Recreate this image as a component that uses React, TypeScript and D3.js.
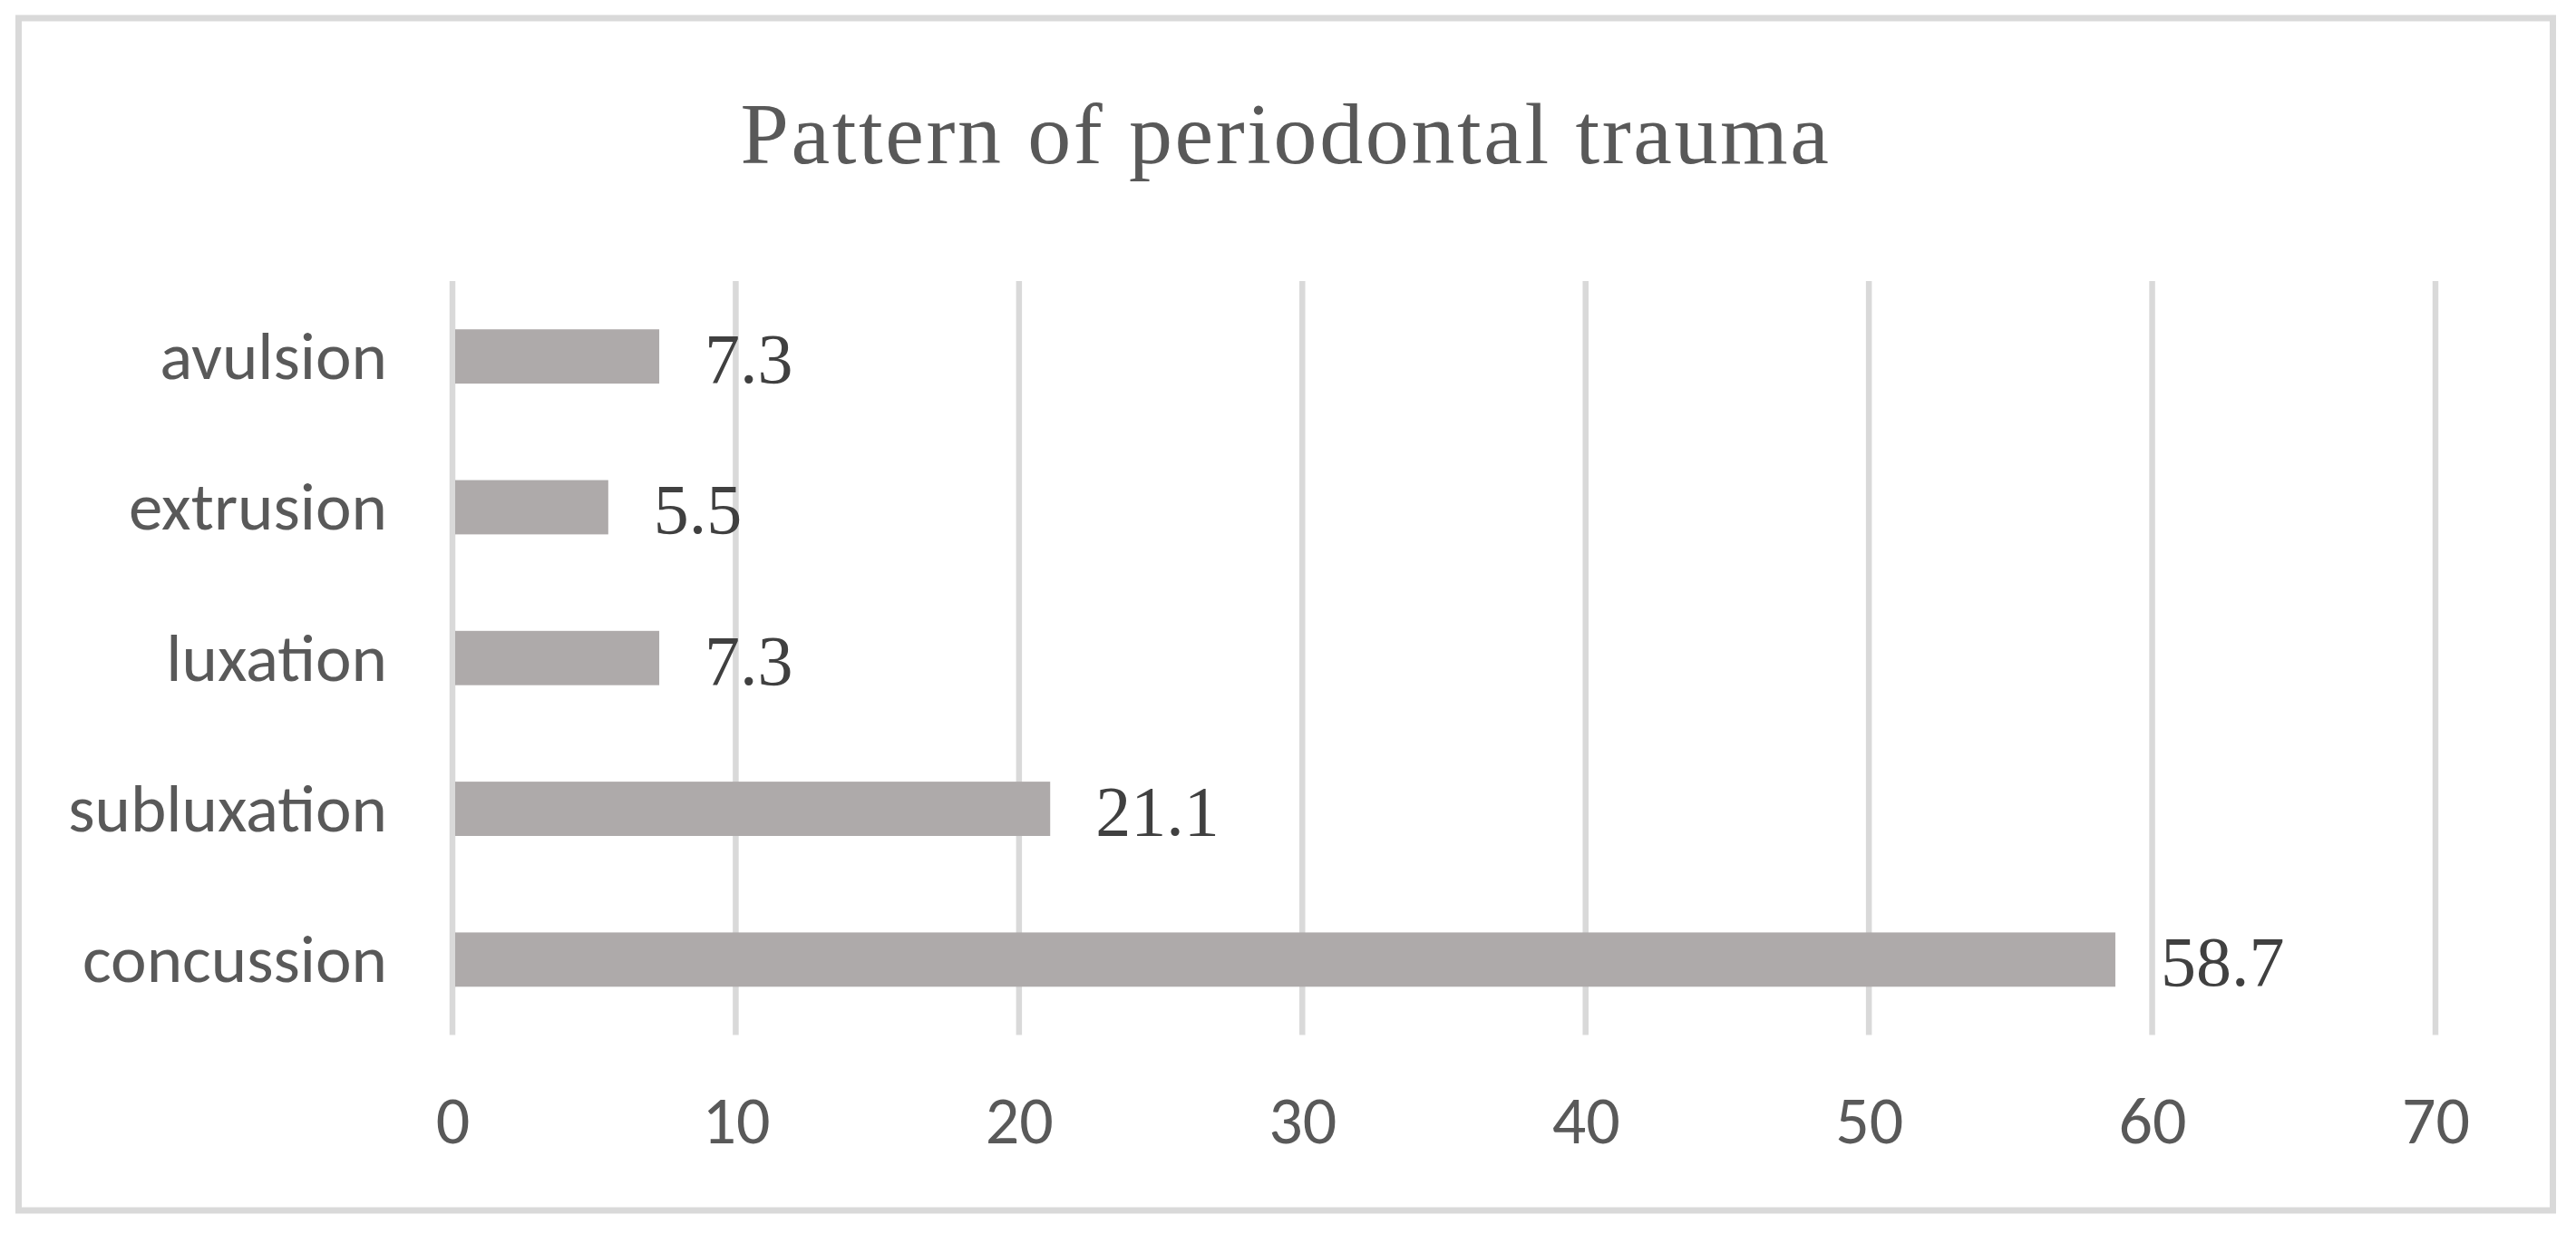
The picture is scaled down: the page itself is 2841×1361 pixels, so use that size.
import React, { useEffect, useRef } from "react";
import * as d3 from "d3";

const categories = ["avulsion", "extrusion", "luxation", "subluxation", "concussion"];
const values = [7.3, 5.5, 7.3, 21.1, 58.7];
const xTicks = [0, 10, 20, 30, 40, 50, 60, 70];
const title = "Pattern of periodontal trauma";

const W = 2841;
const H = 1361;

export default function App() {
  const ref = useRef<SVGSVGElement>(null);

  useEffect(() => {
    const svg = d3.select(ref.current);
    svg.selectAll("*").remove();

    const margin = { left: 499, right: W - 2686, top: 310, bottom: H - 1141.5 };
    const w = W - margin.left - margin.right;
    const h = H - margin.top - margin.bottom;

    // chart frame
    svg.append("rect")
      .attr("x", 20.5).attr("y", 20)
      .attr("width", 2795).attr("height", 1315)
      .attr("fill", "#fff")
      .attr("stroke", "#d9d9d9")
      .attr("stroke-width", 7);

    svg.append("text")
      .attr("x", 1418)
      .attr("y", 180)
      .attr("text-anchor", "middle")
      .style("font-family", "'Palatino Linotype', 'Book Antiqua', 'Liberation Serif', serif")
      .style("font-size", "96px")
      .style("letter-spacing", "2.6px")
      .attr("fill", "#595959")
      .text(title);

    const g = svg.append("g").attr("transform", `translate(${margin.left}, ${margin.top})`);

    const x = d3.scaleLinear().domain([0, 70]).range([0, w]);
    const y = d3.scaleBand().domain(categories).range([0, h]).paddingInner(0.64).paddingOuter(0.32);

    g.selectAll(".grid").data(xTicks).join("line")
      .attr("class", "grid")
      .attr("x1", d => x(d)).attr("x2", d => x(d))
      .attr("y1", 0).attr("y2", h)
      .attr("stroke", "#d9d9d9")
      .attr("stroke-width", 6.5);

    g.selectAll(".bar").data(categories).join("rect")
      .attr("class", "bar")
      .attr("x", x(0) + 3)
      .attr("y", d => y(d)!)
      .attr("width", (d, i) => x(values[i]) - x(0) - 3)
      .attr("height", y.bandwidth())
      .attr("fill", "#aeaaaa");

    g.selectAll(".val").data(categories).join("text")
      .attr("class", "val")
      .attr("x", (d, i) => x(values[i]) + 50)
      .attr("y", d => y(d)! + y.bandwidth() / 2 + 29)
      .style("font-family", "'Palatino Linotype', 'Book Antiqua', 'Liberation Serif', serif")
      .style("font-size", "78px")
      .attr("fill", "#404040")
      .text((d, i) => values[i].toFixed(1));

    const xAxis = g.append("g")
      .attr("transform", `translate(0, ${h})`)
      .call(d3.axisBottom(x).tickValues(xTicks).tickSize(0).tickFormat(d3.format("d")));
    xAxis.select(".domain").remove();
    xAxis.selectAll("text")
      .attr("y", 119.5).attr("dy", null)
      .style("font-family", "Carlito, Calibri, Lato, sans-serif")
      .style("font-size", "74px")
      .attr("fill", "#595959");

    const yAxis = g.append("g")
      .call(d3.axisLeft(y).tickSize(0));
    yAxis.select(".domain").remove();
    yAxis.selectAll("text")
      .attr("x", -72).attr("dy", "0.33em")
      .style("font-family", "Carlito, Calibri, Lato, sans-serif")
      .style("font-size", "75px")
      .attr("fill", "#595959");
  }, []);

  return (
    <svg ref={ref} width={W} height={H}
      style={{ position: "absolute", left: 0, top: 0, background: "#fff" }} />
  );
}
